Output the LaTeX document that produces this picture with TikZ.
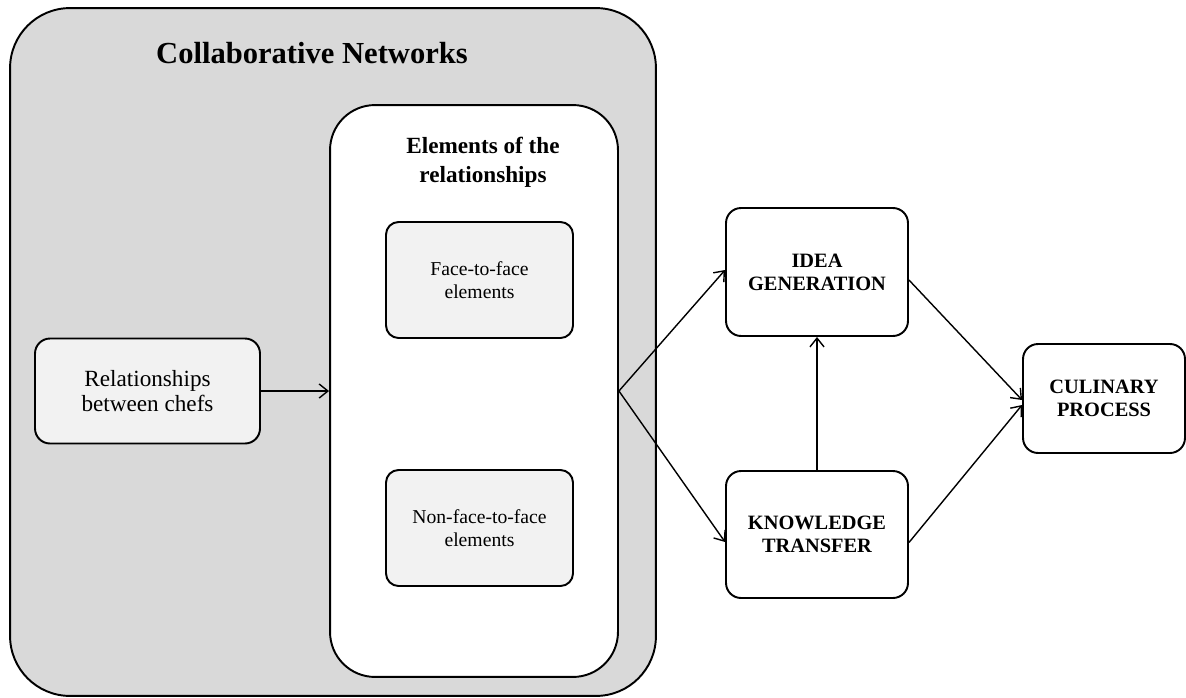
\documentclass[tikz,border=0pt]{standalone}
\usepackage{fontspec}
\setmainfont{Liberation Serif}
\usetikzlibrary{arrows.meta}
\begin{document}
\begin{tikzpicture}[x=0.02cm,y=-0.02cm,
  box/.style={draw=black,line width=1.1pt,rectangle,align=center,inner sep=0pt},
  elembox/.style={box,fill=boxgray,rounded corners=0.25cm,minimum width=3.74cm,minimum height=2.32cm,font=\fontsize{11.2}{13}\selectfont},
  outbox/.style={box,fill=white,rounded corners=0.3cm,font=\fontsize{11.6}{13}\selectfont\bfseries},
  conn/.style={line width=0.8pt,-{Straight Barb[length=5pt,width=8pt]}}]
\definecolor{boxgray}{HTML}{F2F2F2}
\definecolor{outergray}{HTML}{D9D9D9}
\useasboundingbox (0,0) rectangle (1186,697);
\fill[white] (0,0) rectangle (1186,697);
\node[box,fill=outergray,rounded corners=1.2cm,minimum width=12.92cm,minimum height=13.76cm] (outer) at (333,352) {};
\node[font=\fontsize{17.4}{20}\selectfont\bfseries] (title) at (312,53) {Collaborative Networks};
\node[box,fill=white,rounded corners=0.9cm,minimum width=5.76cm,minimum height=11.44cm] (inner) at (474,391) {};
\node[font=\fontsize{13.2}{16.5}\selectfont\bfseries,align=center] (elt) at (483,162) {Elements of the\\relationships};
\node[elembox] (face) at (479.5,280) {Face-to-face\\elements};
\node[elembox] (nonface) at (479.5,528) {Non-face-to-face\\elements};
\node[box,fill=boxgray,rounded corners=0.3cm,minimum width=4.5cm,minimum height=2.1cm,font=\fontsize{13.2}{14.2}\selectfont] (rel) at (147.5,391) {Relationships\\between chefs};
\node[outbox,minimum width=3.64cm,minimum height=2.56cm] (idea) at (817,272) {IDEA\\GENERATION};
\node[outbox,minimum width=3.64cm,minimum height=2.54cm] (know) at (817,534.5) {KNOWLEDGE\\TRANSFER};
\node[outbox,minimum width=3.24cm,minimum height=2.18cm] (cul) at (1104,398.5) {CULINARY\\PROCESS};
\draw[conn] (rel.east) -- (inner.west);
\draw[conn] (inner.east) -- ([yshift=0.04cm]idea.west);
\draw[conn] (inner.east) -- ([yshift=-0.15cm]know.west);
\draw[conn] (know.north) -- (idea.south);
\draw[conn] ([yshift=-0.16cm]idea.east) -- ([yshift=-0.03cm]cul.west);
\draw[conn] ([yshift=-0.16cm]know.east) -- ([yshift=-0.13cm]cul.west);
\end{tikzpicture}
\end{document}
